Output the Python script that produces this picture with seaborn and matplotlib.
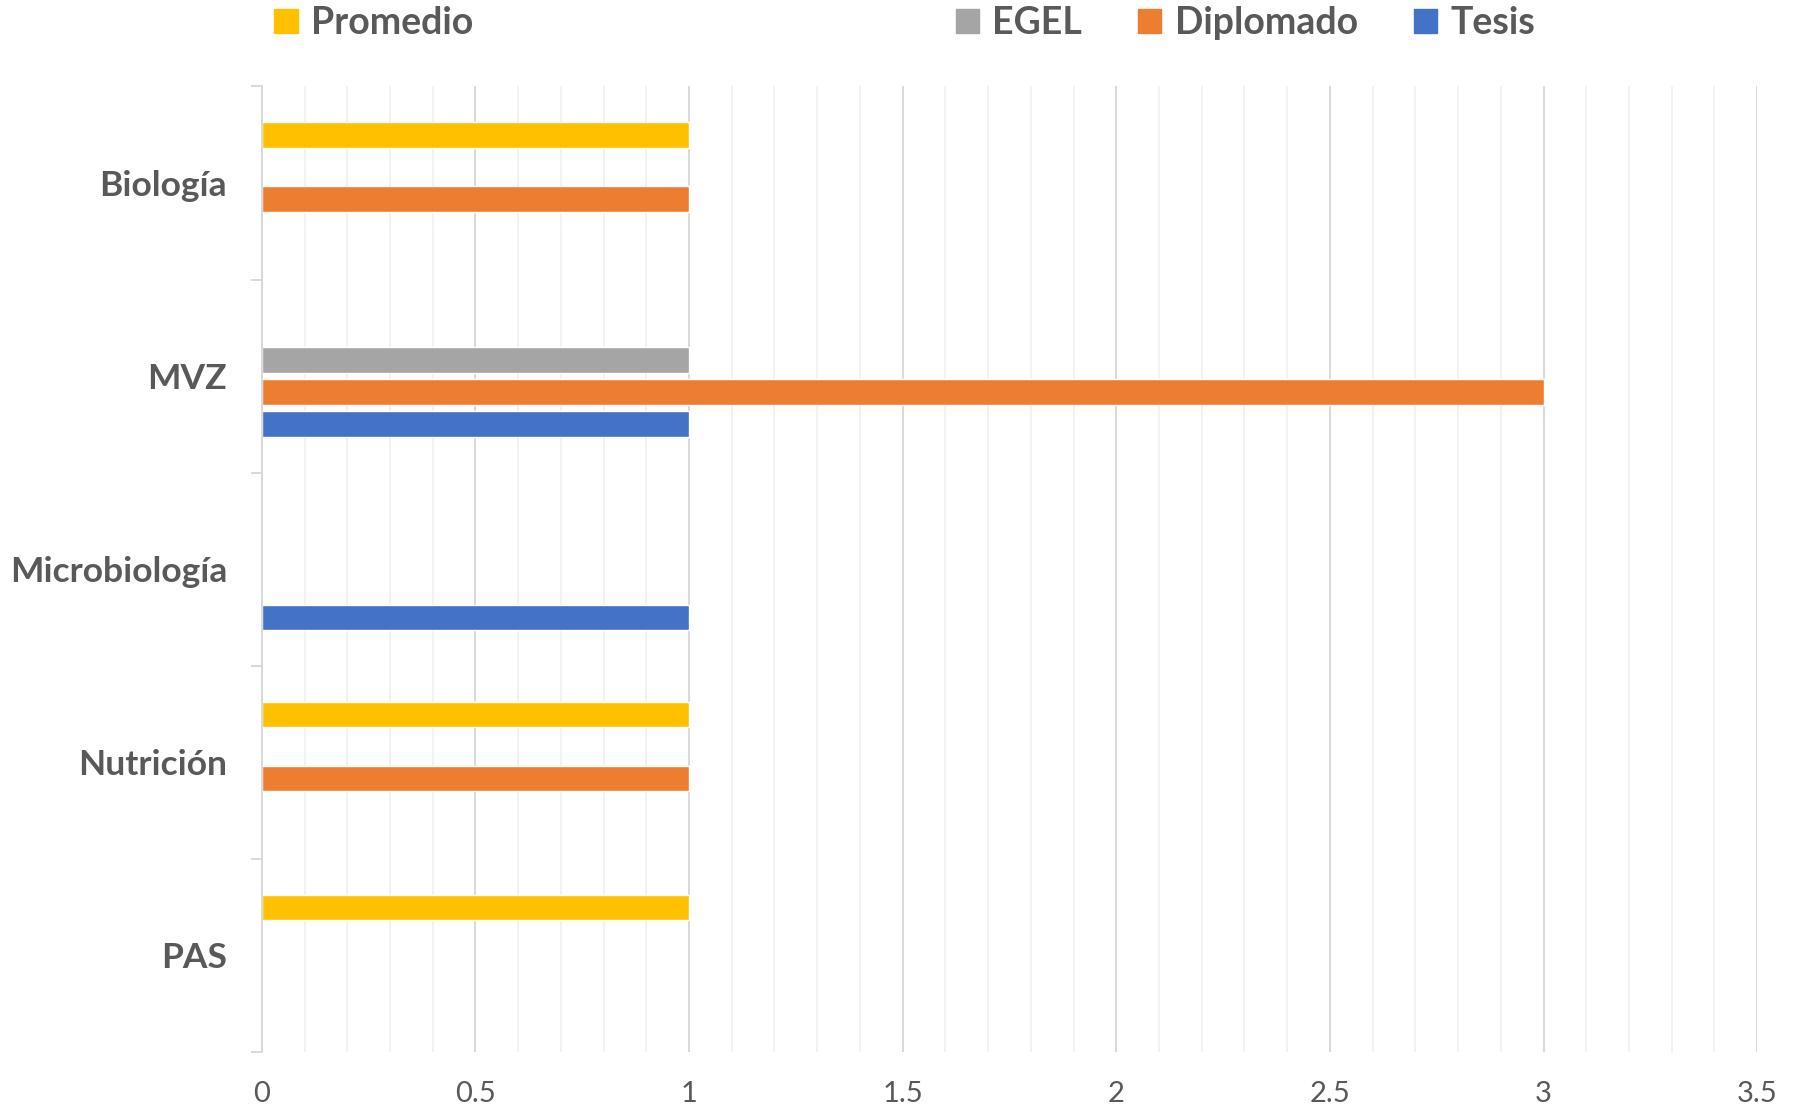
import pandas as pd
import seaborn as sns
import matplotlib.pyplot as plt
from matplotlib.patches import Patch
from matplotlib.ticker import MultipleLocator

# carreras y modalidades de titulación
carreras = ["Biología", "MVZ", "Microbiología", "Nutrición", "PAS"]
series = ["Promedio", "EGEL", "Diplomado", "Tesis"]
promedio = [1, 0, 0, 1, 1]
egel = [0, 1, 0, 0, 0]
diplomado = [1, 3, 0, 1, 0]
tesis = [0, 1, 1, 0, 0]
colores = ["#FFC000", "#A5A5A5", "#ED7D31", "#4472C4"]
xticks = [0, 0.5, 1, 1.5, 2, 2.5, 3, 3.5]

sns.set_style("white")
plt.rcParams['font.family'] = ['Lato', 'DejaVu Sans']
gris = "#595959"

df = pd.DataFrame({"Carrera": carreras, "Promedio": promedio, "EGEL": egel,
                   "Diplomado": diplomado, "Tesis": tesis})
df = df.melt(id_vars="Carrera", var_name="Modalidad", value_name="Cantidad")

fig = plt.figure(figsize=(17.93, 11.08), dpi=100)
ax = fig.add_axes([0.146, 0.0505, 0.834, 0.8715])

sns.barplot(data=df, y="Carrera", x="Cantidad", hue="Modalidad", hue_order=series,
            order=carreras, palette=colores, orient="h", width=0.663, gap=0.21,
            saturation=1, legend=False, ax=ax)

ax.set_xlim(0, 3.5)
ax.set_ylim(4.5, -0.5)
ax.set_xticks(xticks)
ax.set_xticklabels([f"{t:g}" for t in xticks])
ax.xaxis.set_minor_locator(MultipleLocator(0.1))
ax.grid(axis="x", which="major", color="#D9D9D9", linewidth=1.4)
ax.grid(axis="x", which="minor", color="#F0F0F0", linewidth=1.2)
ax.set_axisbelow(True)

for s in ["top", "right", "bottom"]:
    ax.spines[s].set_visible(False)
ax.spines["left"].set_color("#D9D9D9")
ax.spines["left"].set_linewidth(1.4)

ax.yaxis.set_minor_locator(MultipleLocator(1, offset=0.5))
ax.tick_params(axis="y", which="major", length=0, pad=25, labelsize=25.5, labelcolor=gris)
ax.tick_params(axis="y", which="minor", length=8, width=1.4, color="#D9D9D9", left=True)
ax.tick_params(axis="x", which="both", length=0, pad=21, labelsize=21, labelcolor=gris)
for lab in ax.get_yticklabels():
    lab.set_fontweight("bold")
ax.set_xlabel("")
ax.set_ylabel("")

handles = [Patch(color=c) for c in colores]
leg_kw = dict(frameon=False, handlelength=0.62, handleheight=0.62,
              handletextpad=0.35, borderpad=0, borderaxespad=0, columnspacing=1.5,
              loc="center left", prop={"weight": "bold", "size": 27})
leg1 = fig.legend(handles[:1], series[:1], bbox_to_anchor=(0.153, 0.979), **leg_kw)
leg2 = fig.legend(handles[1:], series[1:], ncol=3, bbox_to_anchor=(0.533, 0.979), **leg_kw)
for leg in (leg1, leg2):
    for t in leg.get_texts():
        t.set_color(gris)

fig.savefig("out.png", dpi=100)
